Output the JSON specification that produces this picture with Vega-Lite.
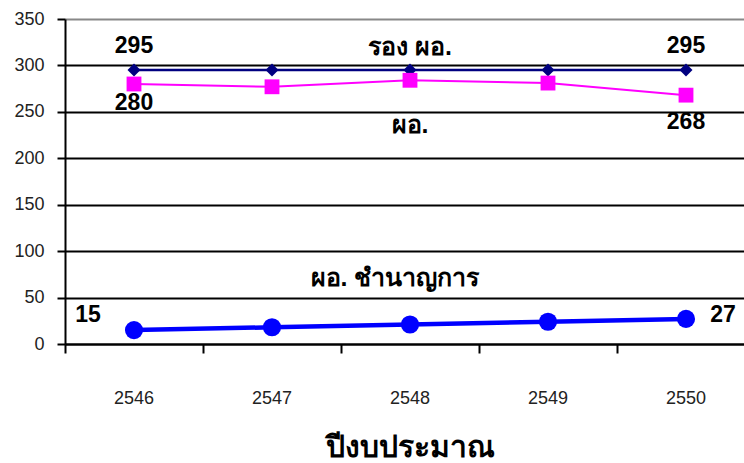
{
  "$schema": "https://vega.github.io/schema/vega-lite/v6.json",
  "width": 690,
  "height": 325,
  "autosize": {"type": "none"},
  "padding": {"left": 65, "top": 19, "right": 0, "bottom": 119},
  "background": "white",
  "config": {"view": {"stroke": null}, "font": "Liberation Sans"},
  "data": {"values": [
    {"year": "2546", "series": "รอง ผอ.", "value": 295},
    {"year": "2547", "series": "รอง ผอ.", "value": 295},
    {"year": "2548", "series": "รอง ผอ.", "value": 295},
    {"year": "2549", "series": "รอง ผอ.", "value": 295},
    {"year": "2550", "series": "รอง ผอ.", "value": 295},
    {"year": "2546", "series": "ผอ.", "value": 280},
    {"year": "2547", "series": "ผอ.", "value": 277},
    {"year": "2548", "series": "ผอ.", "value": 284},
    {"year": "2549", "series": "ผอ.", "value": 281},
    {"year": "2550", "series": "ผอ.", "value": 268},
    {"year": "2546", "series": "ผอ. ชำนาญการ", "value": 15},
    {"year": "2547", "series": "ผอ. ชำนาญการ", "value": 18},
    {"year": "2548", "series": "ผอ. ชำนาญการ", "value": 21},
    {"year": "2549", "series": "ผอ. ชำนาญการ", "value": 24},
    {"year": "2550", "series": "ผอ. ชำนาญการ", "value": 27}
  ]},
  "encoding": {
    "x": {"field": "year", "type": "nominal",
      "scale": {"type": "band", "paddingInner": 0, "paddingOuter": 0},
      "axis": {"title": "ปีงบประมาณ", "labelAngle": 0, "bandPosition": 0, "domainColor": "black", "domainWidth": 2,
        "tickColor": "black", "tickWidth": 2, "tickSize": 9, "labelPadding": 36, "labelFontSize": 18, "labelColor": "#222",
        "labelFont": "Liberation Sans", "titleFontSize": 30, "titleFontWeight": "bold", "titleColor": "black", "titlePadding": 25, "grid": false}},
    "y": {"field": "value", "type": "quantitative",
      "scale": {"domain": [0, 350], "nice": false},
      "axis": {"title": null, "values": [0, 50, 100, 150, 200, 250, 300, 350], "domainColor": "black", "domainWidth": 2,
        "tickColor": "black", "tickWidth": 2, "tickSize": 8, "labelPadding": 13, "labelFontSize": 18, "labelColor": "#222",
        "labelFont": "Liberation Sans",
        "grid": true, "gridWidth": 2, "gridColor": {"condition": {"test": "datum.value === 350", "value": "#888"}, "value": "black"}}}
  },
  "layer": [
    {"transform": [{"filter": "datum.series === 'รอง ผอ.'"}], "mark": {"type": "line", "color": "#000080", "strokeWidth": 2.5}, "encoding": {}},
    {"transform": [{"filter": "datum.series === 'รอง ผอ.'"}], "mark": {"type": "point", "shape": "diamond", "filled": true, "color": "#000080", "size": 170, "opacity": 1}, "encoding": {}},
    {"transform": [{"filter": "datum.series === 'ผอ.'"}], "mark": {"type": "line", "color": "#FF00FF", "strokeWidth": 2}, "encoding": {}},
    {"transform": [{"filter": "datum.series === 'ผอ.'"}], "mark": {"type": "square", "filled": true, "color": "#FF00FF", "size": 220, "opacity": 1}, "encoding": {}},
    {"transform": [{"filter": "datum.series === 'ผอ. ชำนาญการ'"}], "mark": {"type": "line", "color": "#0000FF", "strokeWidth": 4.5}, "encoding": {}},
    {"transform": [{"filter": "datum.series === 'ผอ. ชำนาญการ'"}], "mark": {"type": "circle", "color": "#0000FF", "size": 330, "opacity": 1}, "encoding": {}},
    {"transform": [{"filter": "datum.series === 'รอง ผอ.' && (datum.year === '2546' || datum.year === '2550')"}],
      "mark": {"type": "text", "fontSize": 23, "fontWeight": "bold", "color": "black", "dy": -24, "font": "Liberation Sans"},
      "encoding": {"text": {"field": "value", "type": "quantitative"}}},
    {"transform": [{"filter": "datum.series === 'ผอ.' && datum.year === '2546'"}],
      "mark": {"type": "text", "fontSize": 23, "fontWeight": "bold", "color": "black", "dy": 19, "font": "Liberation Sans"},
      "encoding": {"text": {"field": "value", "type": "quantitative"}}},
    {"transform": [{"filter": "datum.series === 'ผอ.' && datum.year === '2550'"}],
      "mark": {"type": "text", "fontSize": 23, "fontWeight": "bold", "color": "black", "dy": 27, "font": "Liberation Sans"},
      "encoding": {"text": {"field": "value", "type": "quantitative"}}},
    {"transform": [{"filter": "datum.series === 'ผอ. ชำนาญการ' && datum.year === '2546'"}],
      "mark": {"type": "text", "fontSize": 23, "fontWeight": "bold", "color": "black", "dy": -15, "dx": -46, "font": "Liberation Sans"},
      "encoding": {"text": {"field": "value", "type": "quantitative"}}},
    {"transform": [{"filter": "datum.series === 'ผอ. ชำนาญการ' && datum.year === '2550'"}],
      "mark": {"type": "text", "fontSize": 23, "fontWeight": "bold", "color": "black", "dy": -4, "dx": 37, "font": "Liberation Sans"},
      "encoding": {"text": {"field": "value", "type": "quantitative"}}},
    {"transform": [{"filter": "datum.series === 'รอง ผอ.' && datum.year === '2548'"}],
      "mark": {"type": "text", "fontSize": 25, "fontWeight": "bold", "color": "black", "dy": -23},
      "encoding": {"text": {"field": "series", "type": "nominal"}}},
    {"transform": [{"filter": "datum.series === 'ผอ.' && datum.year === '2548'"}],
      "mark": {"type": "text", "fontSize": 25, "fontWeight": "bold", "color": "black", "dy": 45},
      "encoding": {"text": {"field": "series", "type": "nominal"}}},
    {"transform": [{"filter": "datum.series === 'ผอ. ชำนาญการ' && datum.year === '2548'"}],
      "mark": {"type": "text", "fontSize": 25, "fontWeight": "bold", "color": "black", "dy": -47, "dx": -15},
      "encoding": {"text": {"field": "series", "type": "nominal"}}}
  ]
}
